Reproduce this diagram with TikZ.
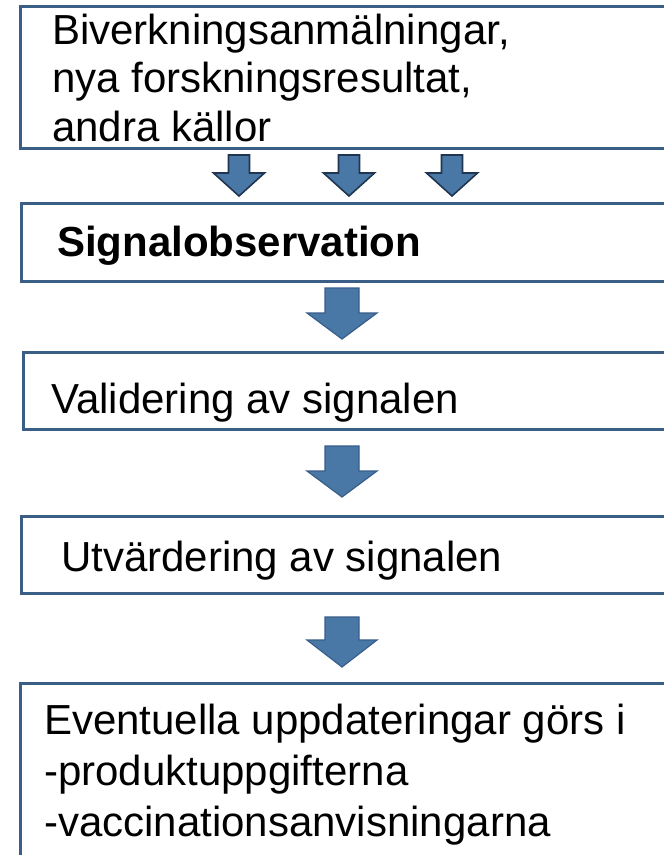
\documentclass[tikz,border=0pt]{standalone}
\usepackage{fontspec}
\setmainfont{Liberation Sans}
\definecolor{boxline}{HTML}{3B5E86}
\definecolor{arrowfill}{HTML}{4A78A6}
\definecolor{arrowline}{HTML}{385D8A}
\definecolor{smallline}{HTML}{1F3550}
\tikzset{
  stepbox/.style={draw=boxline, line width=2.5pt, rectangle, anchor=north west, minimum width=700pt, inner sep=0pt},
  boxtext/.style={anchor=base west, inner sep=0pt, align=left, font=\fontsize{42}{48.5}\selectfont},
  bigarrow/.style={fill=arrowfill, draw=arrowline, line width=1.2pt, line join=miter},
  smallarrow/.style={fill=arrowfill, draw=smallline, line width=1.6pt, line join=miter}
}
\begin{document}
\begin{tikzpicture}[x=1pt, y=-1pt]
	\useasboundingbox (0,0) rectangle (664,855);
	\clip (0,0) rectangle (664,855);
	\fill[white] (0,0) rectangle (664,855);
	% boxes
	\node[stepbox, minimum height=142pt] (sources) at (19,5) {};
	\node[stepbox, minimum height=78pt] (observation) at (20,202) {};
	\node[stepbox, minimum height=77pt] (validation) at (22,351) {};
	\node[stepbox, minimum height=77pt] (evaluation) at (20,515) {};
	\node[stepbox, minimum height=200pt] (updates) at (19,682) {};
	% texts (base = last line)
	\node[boxtext] (sourcestxt) at (52,141) {Biverkningsanmälningar,\\nya forskningsresultat,\\andra källor};
	\node[boxtext, font=\fontsize{42}{48.5}\selectfont\bfseries] (observationtxt) at (57,256) {Signalobservation};
	\node[boxtext] (validationtxt) at (51,413) {Validering av signalen};
	\node[boxtext] (evaluationtxt) at (61,571) {Utvärdering av signalen};
	\node[boxtext, font=\fontsize{42}{51}\selectfont] (updatestxt) at (44,836) {Eventuella uppdateringar görs i\\-produktuppgifterna\\-vaccinationsanvisningarna};
	% small arrows
	\foreach \cx in {239,349,452}
		\draw[smallarrow] ({\cx-10.5},155) -- ({\cx+10.5},155) -- ({\cx+10.5},173) -- ({\cx+25.5},173)
			-- (\cx,196) -- ({\cx-25.5},173) -- ({\cx-10.5},173) -- cycle;
	% big arrows
	\foreach \top/\head/\tip in {288/313/339, 446/471/497, 617/640/667}
		\draw[bigarrow] (325,\top) -- (359,\top) -- (359,\head) -- (377,\head)
			-- (342,\tip) -- (307,\head) -- (325,\head) -- cycle;
\end{tikzpicture}
\end{document}
